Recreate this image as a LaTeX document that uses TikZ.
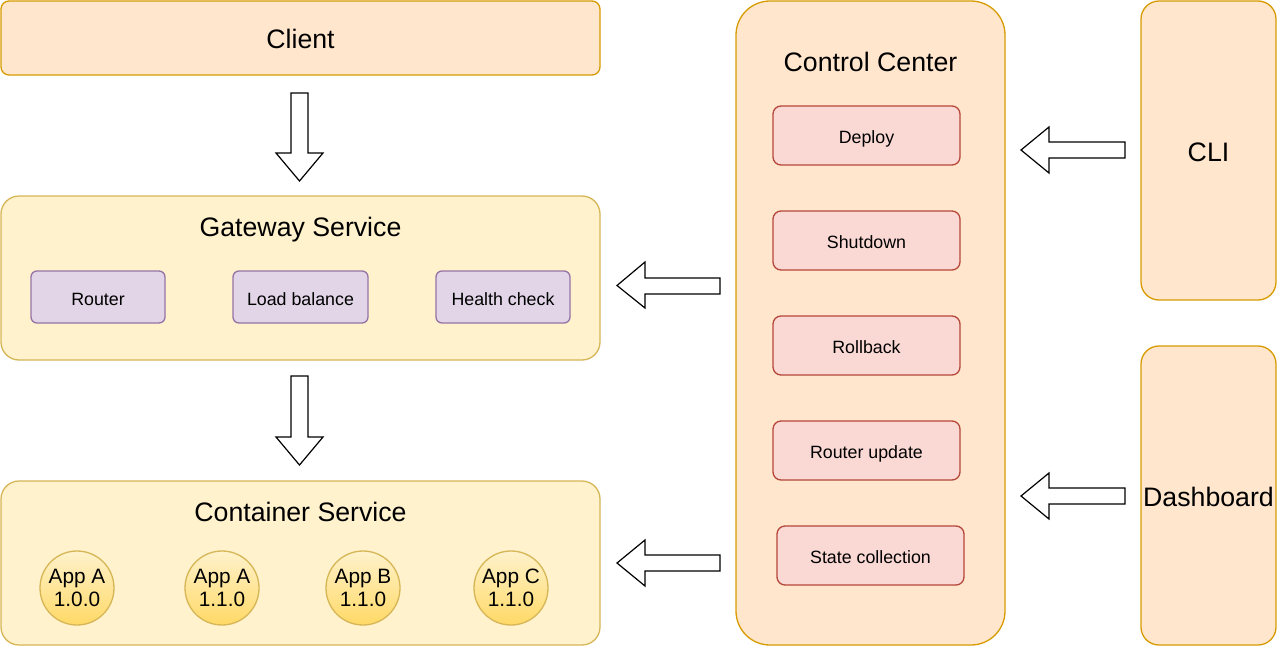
\documentclass[tikz,border=0pt]{standalone}
\usepackage{fontspec}
\setmainfont{Liberation Sans}
\begin{document}
\begin{tikzpicture}[x=1pt,y=-1pt,
  lw/.style={line width=1.3pt},
  orangebox/.style={lw,draw=orgS,fill=orgF},
  yellowbox/.style={lw,draw=ylwS,fill=ylwF},
  purplebox/.style={lw,draw=purS,fill=purF,rounded corners=6pt},
  redbox/.style={lw,draw=redS,fill=redF,rounded corners=8pt},
  app/.style={circle,lw,draw=ylwS,top color=ylwF,bottom color=gold,minimum size=74pt,inner sep=0pt,align=center,font=\fontsize{20.8}{23}\selectfont},
  big/.style={font=\fontsize{26.7}{30}\selectfont,text height=19.4pt,text depth=0pt,inner sep=0pt},
  small/.style={font=\fontsize{17.8}{20}\selectfont,text height=12.9pt,text depth=0pt,inner sep=0pt},
  blockarrow/.style={line width=1.2pt,draw=black,fill=white,line join=miter}
]
\definecolor{orgF}{HTML}{FFE6CC}
\definecolor{orgS}{HTML}{D79B00}
\definecolor{ylwF}{HTML}{FFF2CC}
\definecolor{ylwS}{HTML}{D6B656}
\definecolor{gold}{HTML}{FFD966}
\definecolor{purF}{HTML}{E1D5E7}
\definecolor{purS}{HTML}{9673A6}
\definecolor{redF}{HTML}{FAD9D5}
\definecolor{redS}{HTML}{B5473A}
\useasboundingbox (0,0) rectangle (1277,648);

% Client
\draw[orangebox,rounded corners=8pt] (1,1) rectangle (600,75);
\node[big] (client) at (300.5,39) {Client};

% Gateway
\draw[yellowbox,rounded corners=18pt] (1,196) rectangle (600,360);
\node[big] (gw) at (300.5,227) {Gateway Service};
\draw[purplebox] (31,271) rectangle (165,323);
\node[small] (router) at (98,299) {Router};
\draw[purplebox] (233,271) rectangle (368,323);
\node[small] (lb) at (300.5,299) {Load balance};
\draw[purplebox] (436,271) rectangle (570,323);
\node[small] (hc) at (503,299) {Health check};

% Container
\draw[yellowbox,rounded corners=18pt] (1,481) rectangle (600,645);
\node[big] (cs) at (300.5,512) {Container Service};
\node[app] (a1) at (77,588) {App A\\1.0.0};
\node[app] (a2) at (222,588) {App A\\1.1.0};
\node[app] (a3) at (363,588) {App B\\1.1.0};
\node[app] (a4) at (511,588) {App C\\1.1.0};

% Control center
\draw[orangebox,rounded corners=34pt] (736,1) rectangle (1005,645);
\node[big] (cc) at (870.5,62) {Control Center};
\draw[redbox] (773,106) rectangle (960,165);
\node[small] (deploy) at (866.5,137) {Deploy};
\draw[redbox] (773,211) rectangle (960,270);
\node[small] (shut) at (866.5,242) {Shutdown};
\draw[redbox] (773,316) rectangle (960,375);
\node[small] (roll) at (866.5,347) {Rollback};
\draw[redbox] (773,421) rectangle (960,480);
\node[small] (ru) at (866.5,452) {Router update};
\draw[redbox] (777,526) rectangle (964,585);
\node[small] (sc) at (870.5,557) {State collection};

% CLI, Dashboard
\draw[orangebox,rounded corners=18pt] (1141,1) rectangle (1276,300);
\node[big] (cli) at (1208.5,152) {CLI};
\draw[orangebox,rounded corners=18pt] (1141,346) rectangle (1276,645);
\node[big] (dash) at (1208.5,497) {Dashboard};

% Down block arrows
\draw[blockarrow] (291,93) -- (308,93) -- (308,153) -- (323,153) -- (299.5,181) -- (276,153) -- (291,153) -- cycle;
\draw[blockarrow] (291,376) -- (308,376) -- (308,437) -- (323,437) -- (299.5,465) -- (276,437) -- (291,437) -- cycle;

% Left block arrows
\draw[blockarrow] (720,278) -- (645,278) -- (645,262) -- (617,285.5) -- (645,308) -- (645,294) -- (720,294) -- cycle;
\draw[blockarrow] (720,555) -- (645,555) -- (645,540) -- (617,563) -- (645,586) -- (645,571) -- (720,571) -- cycle;
\draw[blockarrow] (1125,142) -- (1049,142) -- (1049,127) -- (1021,150) -- (1049,173) -- (1049,158) -- (1125,158) -- cycle;
\draw[blockarrow] (1125,488) -- (1049,488) -- (1049,473) -- (1021,496) -- (1049,519) -- (1049,504) -- (1125,504) -- cycle;
\end{tikzpicture}
\end{document}
